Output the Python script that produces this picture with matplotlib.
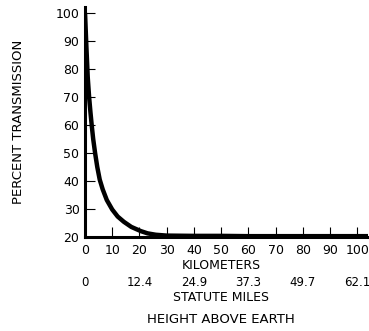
import numpy as np
import matplotlib.pyplot as plt

# values
km = [0, 0.5, 1, 1.5, 2, 2.5, 3, 3.7, 4.5, 5.4, 6.5, 8, 10, 12, 14.3, 17,
      20.5, 23, 26, 30, 40, 50, 60, 70, 80, 90, 100, 104]
transmission = [100, 88, 77, 70, 64.5, 59.5, 55, 50, 45, 40.5, 37, 33.2, 29.8,
                27.3, 25.4, 23.6, 22.1, 21.3, 20.8, 20.5, 20.4, 20.4, 20.3,
                20.3, 20.3, 20.3, 20.3, 20.3]

km_ticks = [0, 10, 20, 30, 40, 50, 60, 70, 80, 90, 100]
mile_pos = [0, 20, 40, 60, 80, 100]
mile_labels = ["0", "12.4", "24.9", "37.3", "49.7", "62.1"]
pct_ticks = [20, 30, 40, 50, 60, 70, 80, 90, 100]

plt.rcParams['font.family'] = ['DejaVu Sans']
fig = plt.figure(figsize=(3.69, 3.31), dpi=100)
ax = fig.add_axes([0.2304, 0.284, 0.767, 0.694])

ax.plot(km, transmission, color="black", lw=3.2, solid_capstyle="butt",
        solid_joinstyle="round")
ax.set_xlim(0, 104)
ax.set_ylim(20, 102)

for s in ["top", "right"]:
    ax.spines[s].set_visible(False)
for s in ["left", "bottom"]:
    ax.spines[s].set_linewidth(2.2)

ax.set_xticks(km_ticks)
ax.set_yticks(pct_ticks)
ax.tick_params(direction="in", length=7, width=0.8, labelsize=9)
ax.tick_params(axis="x", pad=5)
ax.tick_params(axis="y", pad=4)

ax.set_ylabel("PERCENT TRANSMISSION", fontsize=9.5, labelpad=22)

tr = ax.get_xaxis_transform()
ax.text(50, -0.122, "KILOMETERS", transform=tr, ha="center", va="center", fontsize=9)
for p, lab in zip(mile_pos, mile_labels):
    ax.text(p, -0.196, lab, transform=tr, ha="center", va="center", fontsize=8.5)
ax.text(50, -0.262, "STATUTE MILES", transform=tr, ha="center", va="center", fontsize=9)
ax.text(50, -0.358, "HEIGHT ABOVE EARTH", transform=tr, ha="center", va="center", fontsize=9.5)

fig.savefig("out.png", dpi=100)
